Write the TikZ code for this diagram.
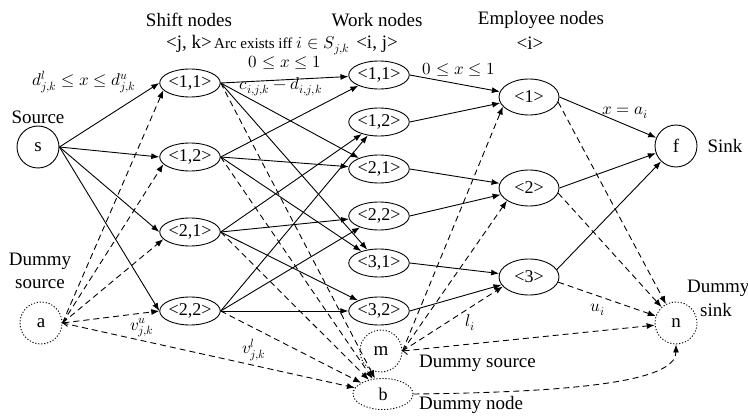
\documentclass[tikz,border=0pt]{standalone}
\usepackage{fontspec}
\usepackage{unicode-math}
\setmainfont{Liberation Serif}
\usetikzlibrary{arrows.meta,shapes.geometric}
\begin{document}
\begin{tikzpicture}[x=1pt,y=-1pt,
  font=\fontsize{19}{22}\selectfont,
  every node/.style={inner sep=0pt},
  ln/.style={line width=0.9pt},
  sol/.style={ln,-{Latex[length=8pt,width=6pt]}},
  dsh/.style={ln,dash pattern=on 6pt off 4pt,-{Latex[length=8pt,width=6pt]}},
  nd/.style={draw,ln,ellipse,font=\fontsize{18}{20}\selectfont,minimum width=60pt,minimum height=28pt},
  emp/.style={nd,minimum height=36pt},
  crc/.style={draw,ln,circle,minimum size=42pt},
  dcrc/.style={crc,dash pattern=on 1.2pt off 1.8pt},
  lab/.style={font=\fontsize{17}{20}\selectfont}
]
\useasboundingbox (0,0) rectangle (748,417);

% headings
\node (hshift) at (189,20) {Shift nodes};
\node (hwork) at (377,20) {Work nodes};
\node (hemp) at (541,20) {Employee nodes};
\node (hjk) at (189,44) {<j, k>};
\node[anchor=west] (harc) at (214,46) {{\fontsize{15}{17}\selectfont Arc exists iff} {\fontsize{17}{20}\selectfont$i\in S_{j,k}$}};
\node (hij) at (377,44) {<i, j>};
\node (hi) at (530,43) {<i>};

% nodes
\node[crc] (s) at (38,147) {s};
\node[crc] (f) at (676,146) {f};
\node[dcrc] (a) at (41,323) {a};
\node[dcrc] (m) at (381,351) {m};
\node[dcrc] (n) at (676,323) {n};
\node[nd,dash pattern=on 1.2pt off 1.8pt,minimum height=31pt] (b) at (383,394) {b};

\node[nd] (sh11) at (190,83) {<1,1>};
\node[nd] (sh12) at (190,157) {<1,2>};
\node[nd] (sh21) at (190,232) {<2,1>};
\node[nd] (sh22) at (190,311) {<2,2>};

\node[nd] (wk11) at (379,75) {<1,1>};
\node[nd] (wk12) at (379,122) {<1,2>};
\node[nd] (wk21) at (379,169) {<2,1>};
\node[nd] (wk22) at (379,216) {<2,2>};
\node[nd] (wk31) at (379,263) {<3,1>};
\node[nd] (wk32) at (379,311) {<3,2>};

\node[emp] (e1) at (529,97) {<1>};
\node[emp] (e2) at (529,188) {<2>};
\node[emp] (e3) at (529,277) {<3>};

% text labels
\node (tsrc) at (38,117) {Source};
\node (tsink) at (725,146) {Sink};
\node[align=center] (tdsrc) at (40,271) {Dummy\\[1pt]source};
\node[anchor=west] (tdsink1) at (687,288) {Dummy};
\node[anchor=west] (tdsink2) at (700,310) {sink};
\node[anchor=west] (tdsrc2) at (419,363) {Dummy source};
\node[anchor=west] (tdnode) at (419,405) {Dummy node};

% edge labels
\node[lab] (l1) at (84,82) {$d^{l}_{j,k} \le x \le d^{u}_{j,k}$};
\node[lab] (l2) at (285,63) {$0 \le x \le 1$};
\node[lab] (l3) at (281,87) {$c_{i,j,k} - d_{i,j,k}$};
\node[lab] (l4) at (459,70) {$0 \le x \le 1$};
\node[lab] (l5) at (625,113) {$x = a_i$};
\node[lab] (l6) at (142,328) {$v^{u}_{j,k}$};
\node[lab] (l7) at (254,350) {$v^{l}_{j,k}$};
\node[lab] (l8) at (470,323) {$l_i$};
\node[lab] (l9) at (598,310) {$u_i$};

% source to shift
\foreach \t in {sh11,sh12,sh21,sh22} \draw[sol] (s.east) -- (\t.west);
% dummy source to shift
\foreach \t in {sh11,sh12,sh21} \draw[dsh] (a.east) -- (\t.195);
\draw[dsh,{Straight Barb[length=4pt,width=8pt]}-{Latex[length=8pt,width=6pt]}] (a.east) -- (sh22.west);
\draw[dsh] (a.east) -- (b);
% shift to dummy node
\foreach \t in {sh11,sh12,sh21,sh22} \draw[dsh] (\t.east) -- (b);
% shift to work
\foreach \t in {wk11,wk21,wk31} {
  \draw[sol] (sh11.east) -- (\t);
  \draw[sol] (sh12.east) -- (\t);
}
\foreach \t in {wk12,wk22,wk32} {
  \draw[sol] (sh21.east) -- (\t);
  \draw[sol] (sh22.east) -- (\t);
}
% work to employee
\draw[sol] (wk11.east) -- (e1);
\draw[sol] (wk12.east) -- (e1);
\draw[sol] (wk21.east) -- (e2);
\draw[sol] (wk22.east) -- (e2);
\draw[sol] (wk31.east) -- (e3);
\draw[sol] (wk32.east) -- (e3);
% employee to sink
\draw[sol] (e1.east) -- (f);
\draw[sol] (e2.east) -- (f);
\draw[sol] (e3.15) -- (f);
% employee to dummy sink
\foreach \t in {e1,e2,e3} \draw[dsh] (\t.-10) -- (n);
% dummy source m to employees
\draw[dsh] (m.east) -- (e1.200);
\draw[dsh] (m.east) -- (e2.210);
\draw[dsh] (m.east) -- (e3.200);
\draw[dsh,{Straight Barb[length=4pt,width=8pt]}-{Latex[length=8pt,width=6pt]}] (m.east) -- (n);
% dummy node to dummy sink
\draw[dsh] (b.east) .. controls (600,392) and (676,378) .. (n.south);
\end{tikzpicture}
\end{document}
